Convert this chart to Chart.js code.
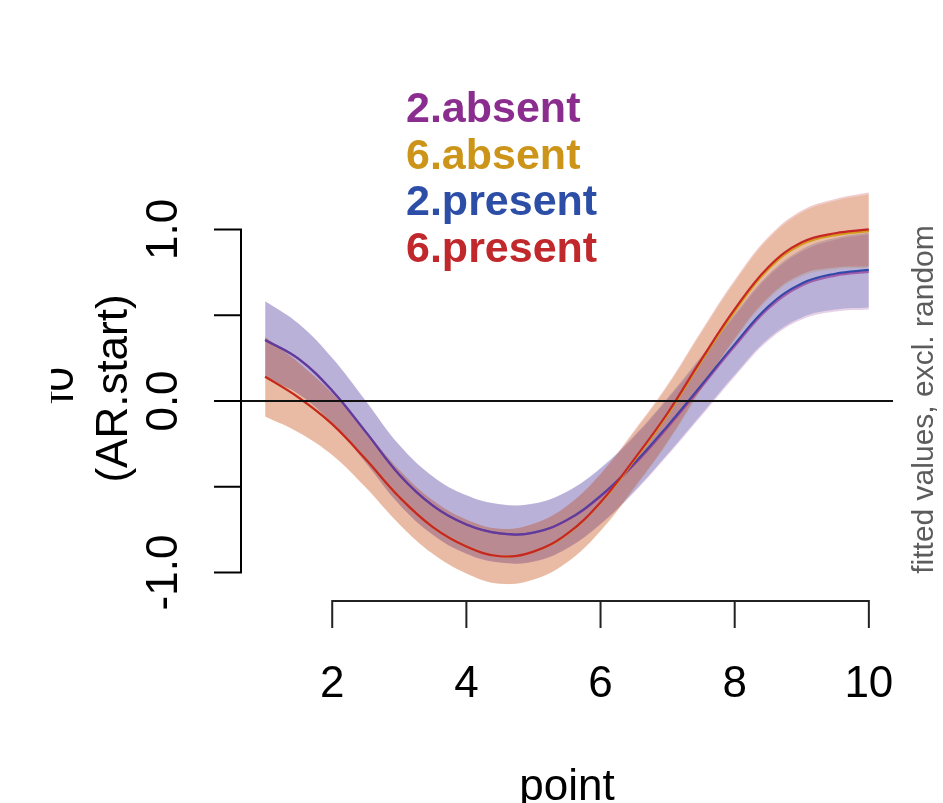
<!DOCTYPE html>
<html><head><meta charset="utf-8">
<script src="https://cdn.jsdelivr.net/npm/chart.js@4"></script>
<style>html,body{margin:0;padding:0;background:#fff;overflow:hidden}canvas{display:block}</style>
</head><body>
<canvas id="c" width="943" height="803"></canvas>
<script>
// ---- data ----
const xs = [1, 1.5, 2, 2.5, 3, 3.5, 4, 4.5, 5, 5.5, 6, 6.5, 7, 7.5, 8, 8.5, 9, 9.5, 10];

const fit2absent  = [0.356, 0.245, 0.06, -0.18, -0.43, -0.61, -0.72, -0.772, -0.768, -0.695, -0.557, -0.372, -0.154, 0.08, 0.319, 0.538, 0.673, 0.731, 0.753];
const ci2absent   = [0.225, 0.205, 0.19, 0.18, 0.173, 0.17, 0.17, 0.17, 0.169, 0.166, 0.163, 0.162, 0.164, 0.169, 0.177, 0.187, 0.198, 0.209, 0.219];

const fit6absent  = [0.142, 0.02, -0.135, -0.34, -0.56, -0.735, -0.848, -0.905, -0.879, -0.777, -0.594, -0.347, -0.079, 0.229, 0.523, 0.768, 0.913, 0.967, 0.99];
const ci6absent   = [0.232, 0.203, 0.18, 0.165, 0.158, 0.156, 0.157, 0.16, 0.163, 0.165, 0.166, 0.166, 0.166, 0.167, 0.17, 0.176, 0.186, 0.2, 0.215];

const fit2present = [0.356, 0.245, 0.06, -0.18, -0.43, -0.61, -0.72, -0.772, -0.767, -0.693, -0.553, -0.365, -0.145, 0.09, 0.33, 0.55, 0.685, 0.742, 0.764];
const ci2present  = [0.225, 0.205, 0.19, 0.18, 0.173, 0.17, 0.17, 0.17, 0.169, 0.166, 0.163, 0.162, 0.164, 0.169, 0.177, 0.187, 0.198, 0.209, 0.219];

const fit6present = [0.142, 0.02, -0.135, -0.34, -0.56, -0.735, -0.848, -0.905, -0.878, -0.775, -0.59, -0.34, -0.07, 0.24, 0.535, 0.78, 0.925, 0.978, 1.0];
const ci6present  = [0.232, 0.203, 0.18, 0.165, 0.158, 0.156, 0.157, 0.16, 0.163, 0.165, 0.166, 0.166, 0.166, 0.167, 0.17, 0.176, 0.186, 0.2, 0.215];

const seriesNames = ['2.absent', '6.absent', '2.present', '6.present'];
const xTicks = [2, 4, 6, 8, 10];
const yTicks = [-1, -0.5, 0, 0.5, 1];
const yTickLabels = ['-1.0', '', '0.0', '', '1.0'];
const xTitle = 'point';
const yTitle = ['f0', '(AR.start)'];
const sideNote = 'fitted values, excl. random';

// ---- styles ----
const textColors = ['#8B2D8F', '#CC9418', '#2C4EA6', '#C0282C'];
const lineColors = ['rgba(142,44,145,0.6)', '#D49B1A', '#2D4BAA', '#C62626'];
const bandColors = ['rgba(142,44,145,0.22)', 'rgba(210,155,25,0.23)', 'rgba(45,75,170,0.23)', 'rgba(195,40,40,0.23)'];
const lineOrder = [4, 3, 5, 2];
const bandOrder = [20, 19, 18, 17];

const fits = [fit2absent, fit6absent, fit2present, fit6present];
const cis = [ci2absent, ci6absent, ci2present, ci6present];

const datasets = [];
fits.forEach((fit, k) => {
  const ci = cis[k];
  const upIdx = datasets.length;
  datasets.push({
    label: seriesNames[k] + ' upper',
    data: xs.map((x, i) => ({x, y: fit[i] + ci[i]})),
    borderWidth: 0, pointRadius: 0, fill: false, order: bandOrder[k], borderColor: 'rgba(0,0,0,0)'
  });
  datasets.push({
    label: seriesNames[k] + ' lower',
    data: xs.map((x, i) => ({x, y: fit[i] - ci[i]})),
    borderWidth: 0, pointRadius: 0, fill: {target: upIdx}, backgroundColor: bandColors[k],
    order: bandOrder[k], borderColor: 'rgba(0,0,0,0)'
  });
});
fits.forEach((fit, k) => {
  datasets.push({
    label: seriesNames[k],
    data: xs.map((x, i) => ({x, y: fit[i]})),
    borderColor: lineColors[k], borderWidth: 2.2, pointRadius: 0, fill: false, order: lineOrder[k]
  });
});

const FONT = '"Liberation Sans", Arial, Helvetica, sans-serif';

const rAxes = {
  id: 'rAxes',
  afterDatasetsDraw(chart) {
    const {ctx, chartArea: a, scales: {x, y}} = chart;
    ctx.save();
    // zero reference line
    const y0 = y.getPixelForValue(0);
    ctx.strokeStyle = '#111'; ctx.lineWidth = 2;
    ctx.beginPath(); ctx.moveTo(a.left, y0); ctx.lineTo(a.right, y0); ctx.stroke();

    // y axis
    ctx.strokeStyle = '#000'; ctx.lineWidth = 2;
    const yTop = y.getPixelForValue(Math.max(...yTicks));
    const yBot = y.getPixelForValue(Math.min(...yTicks));
    ctx.beginPath();
    ctx.moveTo(a.left, yTop); ctx.lineTo(a.left, yBot);
    yTicks.forEach(v => { const p = y.getPixelForValue(v); ctx.moveTo(a.left + 1, p); ctx.lineTo(a.left - 27, p); });
    ctx.stroke();
    ctx.fillStyle = '#000';
    ctx.font = '44px ' + FONT;
    ctx.textAlign = 'center'; ctx.textBaseline = 'alphabetic';
    yTicks.forEach((v, i) => {
      if (!yTickLabels[i]) return;
      const p = y.getPixelForValue(v);
      ctx.save(); ctx.translate(a.left - 64, p); ctx.rotate(-Math.PI / 2);
      ctx.fillText(yTickLabels[i], 0, 0); ctx.restore();
    });
    // y title (two lines, outer one clipped by the margin)
    const yc = (a.top + a.bottom) / 2;
    ctx.save(); ctx.translate(a.left - 114, yc - 1); ctx.rotate(-Math.PI / 2);
    ctx.fillText(yTitle[1], 0, 0); ctx.restore();
    ctx.save();
    ctx.beginPath(); ctx.rect(51, 0, 200, 803); ctx.clip();
    ctx.translate(a.left - 168, yc - 4); ctx.rotate(-Math.PI / 2);
    ctx.fillText(yTitle[0], 0, 0); ctx.restore();

    // x axis
    const xb = a.bottom;
    ctx.strokeStyle = '#222'; ctx.lineWidth = 2;
    ctx.beginPath();
    ctx.moveTo(x.getPixelForValue(xTicks[0]), xb); ctx.lineTo(x.getPixelForValue(xTicks[xTicks.length - 1]), xb);
    xTicks.forEach(v => { const p = x.getPixelForValue(v); ctx.moveTo(p, xb - 1); ctx.lineTo(p, xb + 27); });
    ctx.stroke();
    xTicks.forEach(v => { ctx.fillText(String(v), x.getPixelForValue(v), 697); });
    ctx.fillText(xTitle, (a.left + a.right) / 2, 800);

    // side note
    ctx.fillStyle = '#5c5c5c';
    ctx.font = '30px ' + FONT;
    ctx.save(); ctx.translate(933, yc + 10); ctx.rotate(-Math.PI / 2);
    ctx.fillText(sideNote, 0, 0); ctx.restore();

    // legend text
    ctx.font = 'bold 43px ' + FONT;
    ctx.textAlign = 'left';
    seriesNames.forEach((n, i) => {
      ctx.fillStyle = textColors[i];
      ctx.fillText(n, 406, 122 + i * 46.7);
    });
    ctx.restore();
  }
};

new Chart(document.getElementById('c'), {
  type: 'line',
  data: {datasets},
  options: {
    responsive: false, animation: false, devicePixelRatio: 1,
    layout: {padding: {left: 241, right: 50, top: 178, bottom: 202}},
    plugins: {legend: {display: false}, tooltip: {enabled: false}},
    elements: {line: {tension: 0.4}, point: {radius: 0}},
    scales: {
      x: {type: 'linear', min: 0.64, max: 10.36, display: false},
      y: {type: 'linear', min: -1.166, max: 1.3, display: false}
    }
  },
  plugins: [rAxes]
});
</script>
</body></html>
